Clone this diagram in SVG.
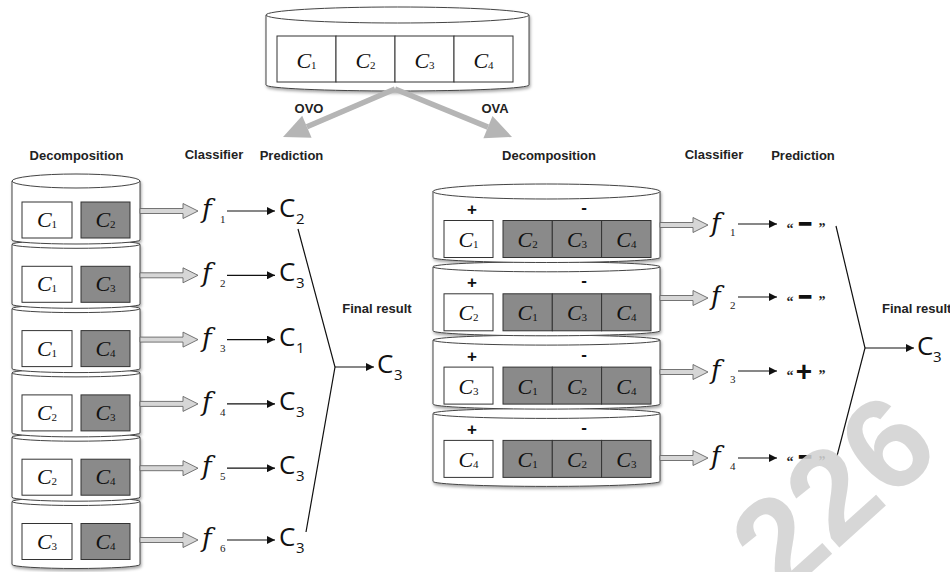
<svg xmlns="http://www.w3.org/2000/svg" width="950" height="572" viewBox="0 0 950 572">
<style>
.hd{font-family:"Liberation Sans",Arial,sans-serif;font-weight:bold;font-size:13px;fill:#222}
.bx{font-family:"Liberation Serif","Times New Roman",serif;font-style:italic;font-size:22px;fill:#111;text-anchor:middle}
.sb{font-size:11px;font-style:normal}
.fl{font-family:"DejaVu Serif","Liberation Serif",serif;font-style:italic;font-size:26px;fill:#111}
.fs{font-family:"Liberation Serif","Times New Roman",serif;font-size:11px;fill:#222}
.pc{font-family:"Open Sans","Liberation Sans",sans-serif;font-size:26px;fill:#111}
.ps{font-family:"Open Sans","Liberation Sans",sans-serif;font-size:15px;fill:#111}
.cyl{fill:#fff;stroke:#444;stroke-width:1}
.wb{fill:#fff;stroke:#333;stroke-width:1}
.gb{fill:#8a8a8a;stroke:#333;stroke-width:1}
.blk{fill:#d6d6d6;stroke:#666;stroke-width:0.9}
.ln{stroke:#111;stroke-width:1.2;fill:none}
.pm{font-family:"Liberation Sans",Arial,sans-serif;font-weight:bold;fill:#111;text-anchor:middle}
.q{font-family:"Liberation Serif",serif;font-weight:bold;font-size:14px;fill:#222;text-anchor:middle}
</style>
<defs>
<filter id="sh" x="-10%" y="-10%" width="120%" height="120%"><feDropShadow dx="1" dy="2" stdDeviation="1.5" flood-color="#000" flood-opacity="0.35"/></filter>
<path id="baL" d="M0,-2.5 H43 V-7.5 L58,0 L43,7.5 V2.5 H0 Z"/>
<path id="baR" d="M0,-2.5 H33 V-7.5 L48,0 L33,7.5 V2.5 H0 Z"/>
<marker id="ah" viewBox="0 0 10 10" refX="10" refY="5" markerWidth="10" markerHeight="8" markerUnits="userSpaceOnUse" orient="auto"><path d="M0,0 L10,5 L0,10 Z" fill="#111"/></marker>
</defs>

<!-- top source cylinder -->
<g id="source">
<g filter="url(#sh)">
<path class="cyl" d="M266,15 V85 A131.5,6 0 0 0 529,85 V15 Z"/>
<ellipse class="cyl" cx="397.5" cy="15" rx="131.5" ry="8"/>
</g>
<rect class="wb" x="277" y="36" width="59" height="46"/>
<rect class="wb" x="336" y="36" width="59" height="46"/>
<rect class="wb" x="395" y="36" width="59" height="46"/>
<rect class="wb" x="454" y="36" width="59" height="46"/>
<text class="bx" x="306.5" y="68">C<tspan class="sb" dy="1">1</tspan></text>
<text class="bx" x="365.5" y="68">C<tspan class="sb" dy="1">2</tspan></text>
<text class="bx" x="424.5" y="68">C<tspan class="sb" dy="1">3</tspan></text>
<text class="bx" x="483.5" y="68">C<tspan class="sb" dy="1">4</tspan></text>
</g>

<g id="split-arrows">
<line x1="395" y1="89" x2="306.9" y2="126.8" stroke="#b5b5b5" stroke-width="5.5"/>
<polygon points="283,137 311.6,137.8 302.2,115.8" fill="#b5b5b5"/>
<line x1="395" y1="89" x2="488" y2="127.1" stroke="#b5b5b5" stroke-width="5.5"/>
<polygon points="512,137 483.4,138.2 492.5,116" fill="#b5b5b5"/>
<text class="hd" x="309" y="113" text-anchor="middle" font-size="14">OVO</text>
<text class="hd" x="495" y="113" text-anchor="middle" font-size="14">OVA</text>
</g>

<!-- headers -->
<g id="headers">
<text class="hd" x="76.5" y="160" text-anchor="middle">Decomposition</text>
<text class="hd" x="214" y="159" text-anchor="middle">Classifier</text>
<text class="hd" x="291.5" y="160" text-anchor="middle">Prediction</text>
<text class="hd" x="377" y="313" text-anchor="middle">Final result</text>
<text class="hd" x="549" y="160" text-anchor="middle">Decomposition</text>
<text class="hd" x="714" y="159" text-anchor="middle">Classifier</text>
<text class="hd" x="803" y="160" text-anchor="middle">Prediction</text>
<text class="hd" x="882" y="313">Final result</text>
</g>

<!-- OVO cylinder -->
<g id="ovo-cylinder" filter="url(#sh)">
<path class="cyl" d="M12,501.5 V564.5 A64,4 0 0 0 140,564.5 V501.5 Z"/>
<ellipse class="cyl" cx="76" cy="501.5" rx="64" ry="4"/>
<path class="cyl" d="M12,437.2 V497.2 A64,4 0 0 0 140,497.2 V437.2 Z"/>
<ellipse class="cyl" cx="76" cy="437.2" rx="64" ry="4"/>
<path class="cyl" d="M12,372.9 V432.9 A64,4 0 0 0 140,432.9 V372.9 Z"/>
<ellipse class="cyl" cx="76" cy="372.9" rx="64" ry="4"/>
<path class="cyl" d="M12,308.6 V368.6 A64,4 0 0 0 140,368.6 V308.6 Z"/>
<ellipse class="cyl" cx="76" cy="308.6" rx="64" ry="4"/>
<path class="cyl" d="M12,244.3 V304.3 A64,4 0 0 0 140,304.3 V244.3 Z"/>
<ellipse class="cyl" cx="76" cy="244.3" rx="64" ry="4"/>
<path class="cyl" d="M12,181 V240 A64,4 0 0 0 140,240 V181 Z"/>
<ellipse class="cyl" cx="76" cy="181" rx="64" ry="7"/>
</g>

<g id="ovo-row1">
<rect class="wb" x="22" y="202" width="50" height="36"/><rect class="gb" x="81" y="202" width="49" height="36"/>
<text class="bx" x="47" y="227">C<tspan class="sb" dy="1">1</tspan></text><text class="bx" x="105.5" y="227">C<tspan class="sb" dy="1">2</tspan></text>
</g>
<g id="ovo-row2">
<rect class="wb" x="22" y="266.3" width="50" height="36"/><rect class="gb" x="81" y="266.3" width="49" height="36"/>
<text class="bx" x="47" y="291.3">C<tspan class="sb" dy="1">1</tspan></text><text class="bx" x="105.5" y="291.3">C<tspan class="sb" dy="1">3</tspan></text>
</g>
<g id="ovo-row3">
<rect class="wb" x="22" y="330.6" width="50" height="36"/><rect class="gb" x="81" y="330.6" width="49" height="36"/>
<text class="bx" x="47" y="355.6">C<tspan class="sb" dy="1">1</tspan></text><text class="bx" x="105.5" y="355.6">C<tspan class="sb" dy="1">4</tspan></text>
</g>
<g id="ovo-row4">
<rect class="wb" x="22" y="394.9" width="50" height="36"/><rect class="gb" x="81" y="394.9" width="49" height="36"/>
<text class="bx" x="47" y="419.9">C<tspan class="sb" dy="1">2</tspan></text><text class="bx" x="105.5" y="419.9">C<tspan class="sb" dy="1">3</tspan></text>
</g>
<g id="ovo-row5">
<rect class="wb" x="22" y="459.2" width="50" height="36"/><rect class="gb" x="81" y="459.2" width="49" height="36"/>
<text class="bx" x="47" y="484.2">C<tspan class="sb" dy="1">2</tspan></text><text class="bx" x="105.5" y="484.2">C<tspan class="sb" dy="1">4</tspan></text>
</g>
<g id="ovo-row6">
<rect class="wb" x="22" y="523.5" width="50" height="36"/><rect class="gb" x="81" y="523.5" width="49" height="36"/>
<text class="bx" x="47" y="548.5">C<tspan class="sb" dy="1">3</tspan></text><text class="bx" x="105.5" y="548.5">C<tspan class="sb" dy="1">4</tspan></text>
</g>

<!-- OVO classifiers and predictions -->
<g id="ovo-f1"><text class="fl" x="202" y="218">f</text><text class="fs" x="220" y="223">1</text></g>
<g id="ovo-p1"><text class="pc" x="279" y="217">C</text><text class="ps" x="296" y="224">2</text></g>
<g id="ovo-f2"><text class="fl" x="202" y="282.3">f</text><text class="fs" x="220" y="287.3">2</text></g>
<g id="ovo-p2"><text class="pc" x="279" y="281.3">C</text><text class="ps" x="296" y="288.3">3</text></g>
<g id="ovo-f3"><text class="fl" x="202" y="347">f</text><text class="fs" x="220" y="352">3</text></g>
<g id="ovo-p3"><text class="pc" x="279" y="346">C</text><text class="ps" x="296" y="353">1</text></g>
<g id="ovo-f4"><text class="fl" x="202" y="410.5">f</text><text class="fs" x="220" y="415.5">4</text></g>
<g id="ovo-p4"><text class="pc" x="279" y="409.5">C</text><text class="ps" x="296" y="416.5">3</text></g>
<g id="ovo-f5"><text class="fl" x="202" y="475">f</text><text class="fs" x="220" y="480">5</text></g>
<g id="ovo-p5"><text class="pc" x="279" y="474">C</text><text class="ps" x="296" y="481">3</text></g>
<g id="ovo-f6"><text class="fl" x="202" y="547">f</text><text class="fs" x="220" y="552">6</text></g>
<g id="ovo-p6"><text class="pc" x="279" y="546">C</text><text class="ps" x="296" y="553">3</text></g>
<g id="ovo-final"><text class="pc" x="377" y="373">C</text><text class="ps" x="394" y="380">3</text></g>

<!-- OVA cylinder -->
<g id="ova-cylinder" filter="url(#sh)">
<path class="cyl" d="M433,413.4 V481.4 A113.5,5 0 0 0 660,481.4 V413.4 Z"/>
<ellipse class="cyl" cx="546.5" cy="413.4" rx="113.5" ry="5"/>
<path class="cyl" d="M433,340.1 V404.1 A113.5,5 0 0 0 660,404.1 V340.1 Z"/>
<ellipse class="cyl" cx="546.5" cy="340.1" rx="113.5" ry="5"/>
<path class="cyl" d="M433,266.8 V330.8 A113.5,5 0 0 0 660,330.8 V266.8 Z"/>
<ellipse class="cyl" cx="546.5" cy="266.8" rx="113.5" ry="5"/>
<path class="cyl" d="M433,191.5 V257.5 A113.5,5 0 0 0 660,257.5 V191.5 Z"/>
<ellipse class="cyl" cx="546.5" cy="191.5" rx="113.5" ry="7.5"/>
</g>

<g id="ova-row1">
<text class="pm" x="472" y="215" font-size="17">+</text><text class="pm" x="584" y="213" font-size="17">-</text>
<rect class="wb" x="444" y="220.5" width="49" height="37"/>
<rect class="gb" x="503" y="220.5" width="49.3" height="37"/><rect class="gb" x="552.3" y="220.5" width="49.3" height="37"/><rect class="gb" x="601.6" y="220.5" width="49.4" height="37"/>
<text class="bx" x="468.5" y="247">C<tspan class="sb" dy="1">1</tspan></text>
<text class="bx" x="527.6" y="247">C<tspan class="sb" dy="1">2</tspan></text><text class="bx" x="577" y="247">C<tspan class="sb" dy="1">3</tspan></text><text class="bx" x="626.3" y="247">C<tspan class="sb" dy="1">4</tspan></text>
</g>
<g id="ova-row2">
<text class="pm" x="472" y="288.3" font-size="17">+</text><text class="pm" x="584" y="286.3" font-size="17">-</text>
<rect class="wb" x="444" y="293.8" width="49" height="37"/>
<rect class="gb" x="503" y="293.8" width="49.3" height="37"/><rect class="gb" x="552.3" y="293.8" width="49.3" height="37"/><rect class="gb" x="601.6" y="293.8" width="49.4" height="37"/>
<text class="bx" x="468.5" y="320.3">C<tspan class="sb" dy="1">2</tspan></text>
<text class="bx" x="527.6" y="320.3">C<tspan class="sb" dy="1">1</tspan></text><text class="bx" x="577" y="320.3">C<tspan class="sb" dy="1">3</tspan></text><text class="bx" x="626.3" y="320.3">C<tspan class="sb" dy="1">4</tspan></text>
</g>
<g id="ova-row3">
<text class="pm" x="472" y="361.6" font-size="17">+</text><text class="pm" x="584" y="359.6" font-size="17">-</text>
<rect class="wb" x="444" y="367.1" width="49" height="37"/>
<rect class="gb" x="503" y="367.1" width="49.3" height="37"/><rect class="gb" x="552.3" y="367.1" width="49.3" height="37"/><rect class="gb" x="601.6" y="367.1" width="49.4" height="37"/>
<text class="bx" x="468.5" y="393.6">C<tspan class="sb" dy="1">3</tspan></text>
<text class="bx" x="527.6" y="393.6">C<tspan class="sb" dy="1">1</tspan></text><text class="bx" x="577" y="393.6">C<tspan class="sb" dy="1">2</tspan></text><text class="bx" x="626.3" y="393.6">C<tspan class="sb" dy="1">4</tspan></text>
</g>
<g id="ova-row4">
<text class="pm" x="472" y="434.9" font-size="17">+</text><text class="pm" x="584" y="432.9" font-size="17">-</text>
<rect class="wb" x="444" y="440.4" width="49" height="37"/>
<rect class="gb" x="503" y="440.4" width="49.3" height="37"/><rect class="gb" x="552.3" y="440.4" width="49.3" height="37"/><rect class="gb" x="601.6" y="440.4" width="49.4" height="37"/>
<text class="bx" x="468.5" y="466.9">C<tspan class="sb" dy="1">4</tspan></text>
<text class="bx" x="527.6" y="466.9">C<tspan class="sb" dy="1">1</tspan></text><text class="bx" x="577" y="466.9">C<tspan class="sb" dy="1">2</tspan></text><text class="bx" x="626.3" y="466.9">C<tspan class="sb" dy="1">3</tspan></text>
</g>

<g id="ova-f1"><text class="fl" x="711" y="232">f</text><text class="fs" x="730" y="236">1</text></g>
<g id="ova-p1"><text class="q" x="790" y="233">“</text><text class="pm" x="805" y="230" font-size="22" stroke="#111" stroke-width="1.6">–</text><text class="q" x="822" y="233">”</text></g>
<g id="ova-f2"><text class="fl" x="711" y="305">f</text><text class="fs" x="730" y="309">2</text></g>
<g id="ova-p2"><text class="q" x="790" y="306">“</text><text class="pm" x="805" y="303" font-size="22" stroke="#111" stroke-width="1.6">–</text><text class="q" x="822" y="306">”</text></g>
<g id="ova-f3"><text class="fl" x="711" y="379">f</text><text class="fs" x="730" y="383">3</text></g>
<g id="ova-p3"><text class="q" x="790" y="380">“</text><text class="pm" x="804" y="381" font-size="28">+</text><text class="q" x="822" y="380">”</text></g>
<g id="ova-f4"><text class="fl" x="711" y="465">f</text><text class="fs" x="730" y="470">4</text></g>
<g id="ova-p4"><text class="q" x="790" y="466">“</text><text class="pm" x="805" y="463" font-size="22" stroke="#111" stroke-width="1.6">–</text><text class="q" x="822" y="466">”</text></g>
<g id="ova-final"><text class="pc" x="917" y="355">C</text><text class="ps" x="933" y="362">3</text></g>

<!-- connectors -->
<g id="connectors">
<use href="#baL" class="blk" x="140" y="211"/>
<use href="#baL" class="blk" x="140" y="275.3"/>
<use href="#baL" class="blk" x="140" y="339.6"/>
<use href="#baL" class="blk" x="140" y="403.9"/>
<use href="#baL" class="blk" x="140" y="468.2"/>
<use href="#baL" class="blk" x="140" y="540"/>
<line class="ln" x1="227" y1="211" x2="275" y2="211" marker-end="url(#ah)"/>
<line class="ln" x1="227" y1="275.3" x2="275" y2="275.3" marker-end="url(#ah)"/>
<line class="ln" x1="227" y1="339.6" x2="275" y2="339.6" marker-end="url(#ah)"/>
<line class="ln" x1="227" y1="403.9" x2="275" y2="403.9" marker-end="url(#ah)"/>
<line class="ln" x1="227" y1="468.2" x2="275" y2="468.2" marker-end="url(#ah)"/>
<line class="ln" x1="227" y1="540" x2="275" y2="540" marker-end="url(#ah)"/>
<polyline class="ln" points="298,229 335,367 306,532"/>
<line class="ln" x1="335" y1="367" x2="374" y2="367" marker-end="url(#ah)"/>
<use href="#baR" class="blk" x="660" y="225"/>
<use href="#baR" class="blk" x="660" y="298"/>
<use href="#baR" class="blk" x="660" y="372"/>
<use href="#baR" class="blk" x="660" y="458"/>
<line class="ln" x1="738" y1="224" x2="777" y2="224" marker-end="url(#ah)"/>
<line class="ln" x1="738" y1="297" x2="777" y2="297" marker-end="url(#ah)"/>
<line class="ln" x1="738" y1="371" x2="777" y2="371" marker-end="url(#ah)"/>
<line class="ln" x1="738" y1="458" x2="777" y2="458" marker-end="url(#ah)"/>
<polyline class="ln" points="836,226 865,348 837,456"/>
<line class="ln" x1="865" y1="348" x2="914" y2="348" marker-end="url(#ah)"/>
</g>

<!-- watermark -->
<text transform="translate(832,492) rotate(-42)" x="0" y="46" text-anchor="middle" font-family="Liberation Sans,Arial,sans-serif" font-weight="bold" font-size="130" fill="#d2d2d2" fill-opacity="0.88">226</text>
</svg>
